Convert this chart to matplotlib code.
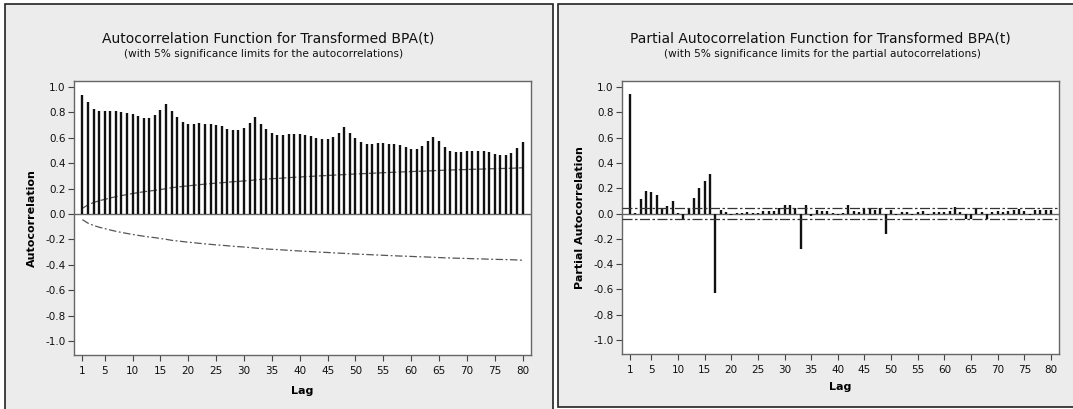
import matplotlib.pyplot as plt
import matplotlib.patches as mpatches
import numpy as np

# datos
lags = np.arange(1, 81)

acf = [0.937, 0.879, 0.828, 0.813, 0.813, 0.813, 0.813, 0.805, 0.797, 0.789,
       0.770, 0.755, 0.755, 0.781, 0.821, 0.863, 0.813, 0.763, 0.728, 0.712,
       0.712, 0.720, 0.712, 0.712, 0.704, 0.694, 0.670, 0.662, 0.662, 0.678,
       0.720, 0.763, 0.712, 0.670, 0.636, 0.620, 0.620, 0.628, 0.628, 0.628,
       0.620, 0.612, 0.596, 0.588, 0.588, 0.604, 0.639, 0.686, 0.639, 0.596,
       0.565, 0.554, 0.554, 0.562, 0.562, 0.554, 0.554, 0.546, 0.528, 0.512,
       0.512, 0.538, 0.573, 0.604, 0.573, 0.528, 0.496, 0.488, 0.488, 0.496,
       0.496, 0.496, 0.496, 0.488, 0.472, 0.462, 0.462, 0.480, 0.522, 0.565]

acf_limit = [0.044, 0.072, 0.090, 0.104, 0.115, 0.126, 0.136, 0.145, 0.153, 0.161,
             0.168, 0.175, 0.181, 0.186, 0.193, 0.199, 0.207, 0.212, 0.217, 0.222,
             0.226, 0.231, 0.235, 0.239, 0.243, 0.246, 0.250, 0.254, 0.257, 0.260,
             0.264, 0.268, 0.272, 0.275, 0.278, 0.280, 0.283, 0.286, 0.289, 0.291,
             0.294, 0.296, 0.299, 0.301, 0.303, 0.306, 0.308, 0.310, 0.313, 0.315,
             0.317, 0.319, 0.321, 0.323, 0.325, 0.327, 0.329, 0.331, 0.332, 0.334,
             0.336, 0.337, 0.339, 0.341, 0.343, 0.345, 0.346, 0.348, 0.349, 0.350,
             0.352, 0.353, 0.354, 0.356, 0.357, 0.358, 0.359, 0.360, 0.362, 0.364]

pacf = [0.942, 0.005, 0.111, 0.180, 0.169, 0.146, 0.042, 0.061, 0.095, 0.003,
        -0.050, 0.042, 0.122, 0.204, 0.254, 0.312, -0.630, 0.024, 0.013, -0.010,
        0.004, 0.003, 0.010, 0.002, 0.004, 0.018, 0.018, 0.018, 0.042, 0.069,
        0.069, 0.040, -0.280, 0.069, -0.016, 0.029, 0.016, 0.021, 0.003, -0.010,
        0.005, 0.069, 0.020, 0.015, 0.040, 0.040, 0.030, 0.040, -0.160, 0.030,
        -0.008, 0.010, 0.015, -0.010, 0.012, 0.020, -0.008, 0.015, 0.012, 0.010,
        0.020, 0.050, 0.010, -0.040, -0.040, 0.045, 0.012, -0.040, 0.010, 0.020,
        0.012, 0.020, 0.030, 0.035, 0.020, -0.010, 0.030, 0.025, 0.030, 0.030]

pacf_limit = 0.042

xticks = [1, 5, 10, 15, 20, 25, 30, 35, 40, 45, 50, 55, 60, 65, 70, 75, 80]
yticks = [1.0, 0.8, 0.6, 0.4, 0.2, 0.0, -0.2, -0.4, -0.6, -0.8, -1.0]

W, H = 1073, 409
fig = plt.figure(figsize=(W / 100, H / 100), dpi=100, facecolor="white")

# marcos de los dos paneles (detras de los ejes)
fig.patches.append(mpatches.Rectangle((5 / W, -0.01), 548 / W, 1 - 4 / H + 0.01,
                                      transform=fig.transFigure, facecolor="#ECECEC",
                                      edgecolor="#222222", lw=1.2, zorder=-10))
fig.patches.append(mpatches.Rectangle((558 / W, 2 / H), 520 / W, 1 - 6 / H,
                                      transform=fig.transFigure, facecolor="#ECECEC",
                                      edgecolor="#222222", lw=1.2, zorder=-10))


def px_axes(x0, x1, y0, y1):
    return fig.add_axes([x0 / W, 1 - y1 / H, (x1 - x0) / W, (y1 - y0) / H])


def estilo(ax):
    ax.set_facecolor("white")
    ax.set_xlim(-0.5, 81.5)
    ax.set_ylim(-1.11, 1.047)
    ax.set_xticks(xticks)
    ax.set_yticks(yticks)
    ax.set_yticklabels([f"{v:.1f}" for v in yticks])
    ax.tick_params(direction="out", length=4, width=0.8, color="#444444",
                   labelsize=7.5, labelcolor="#111111", pad=2)
    ax.tick_params(axis="x", pad=4)
    for s in ax.spines.values():
        s.set_color("#666666")
        s.set_linewidth(1.0)
    ax.axhline(0, color="#666666", lw=1.0, zorder=1)


# ACF
ax1 = px_axes(74, 531, 81, 355)
estilo(ax1)
ax1.vlines(lags, 0, acf, color="#111111", lw=1.7, zorder=3)
ax1.plot(lags, acf_limit, color="#555555", lw=0.9, ls=(0, (6, 2)), zorder=2)
ax1.plot(lags, [-v for v in acf_limit], color="#555555", lw=0.9, ls=(0, (6, 2, 1.5, 2)), zorder=2)
ax1.set_ylabel("Autocorrelation", fontsize=8, fontweight="bold", labelpad=6)
ax1.set_xlabel("Lag", fontsize=8, fontweight="bold", labelpad=7)

# PACF
ax2 = px_axes(622, 1059, 81, 354)
estilo(ax2)
ax2.vlines(lags, 0, pacf, color="#111111", lw=1.7, zorder=3)
ax2.axhline(pacf_limit, color="#333333", lw=0.9, ls=(0, (8, 2, 2, 2)), zorder=4)
ax2.axhline(-pacf_limit, color="#333333", lw=0.9, ls=(0, (8, 2, 2, 2)), zorder=4)
ax2.set_ylabel("Partial Autocorrelation", fontsize=8, fontweight="bold", labelpad=6)
ax2.set_xlabel("Lag", fontsize=8, fontweight="bold", labelpad=5)

# titulos
fig.text(268 / W, 1 - 38 / H, "Autocorrelation Function for Transformed BPA(t)",
         ha="center", va="center", fontsize=10, color="#111111")
fig.text(264 / W, 1 - 54 / H, "(with 5% significance limits for the autocorrelations)",
         ha="center", va="center", fontsize=7.6, color="#111111")
fig.text(820 / W, 1 - 38 / H, "Partial Autocorrelation Function for Transformed BPA(t)",
         ha="center", va="center", fontsize=10, color="#111111")
fig.text(822 / W, 1 - 54 / H, "(with 5% significance limits for the partial autocorrelations)",
         ha="center", va="center", fontsize=7.6, color="#111111")

fig.savefig("out.png", dpi=100, facecolor=fig.get_facecolor())
